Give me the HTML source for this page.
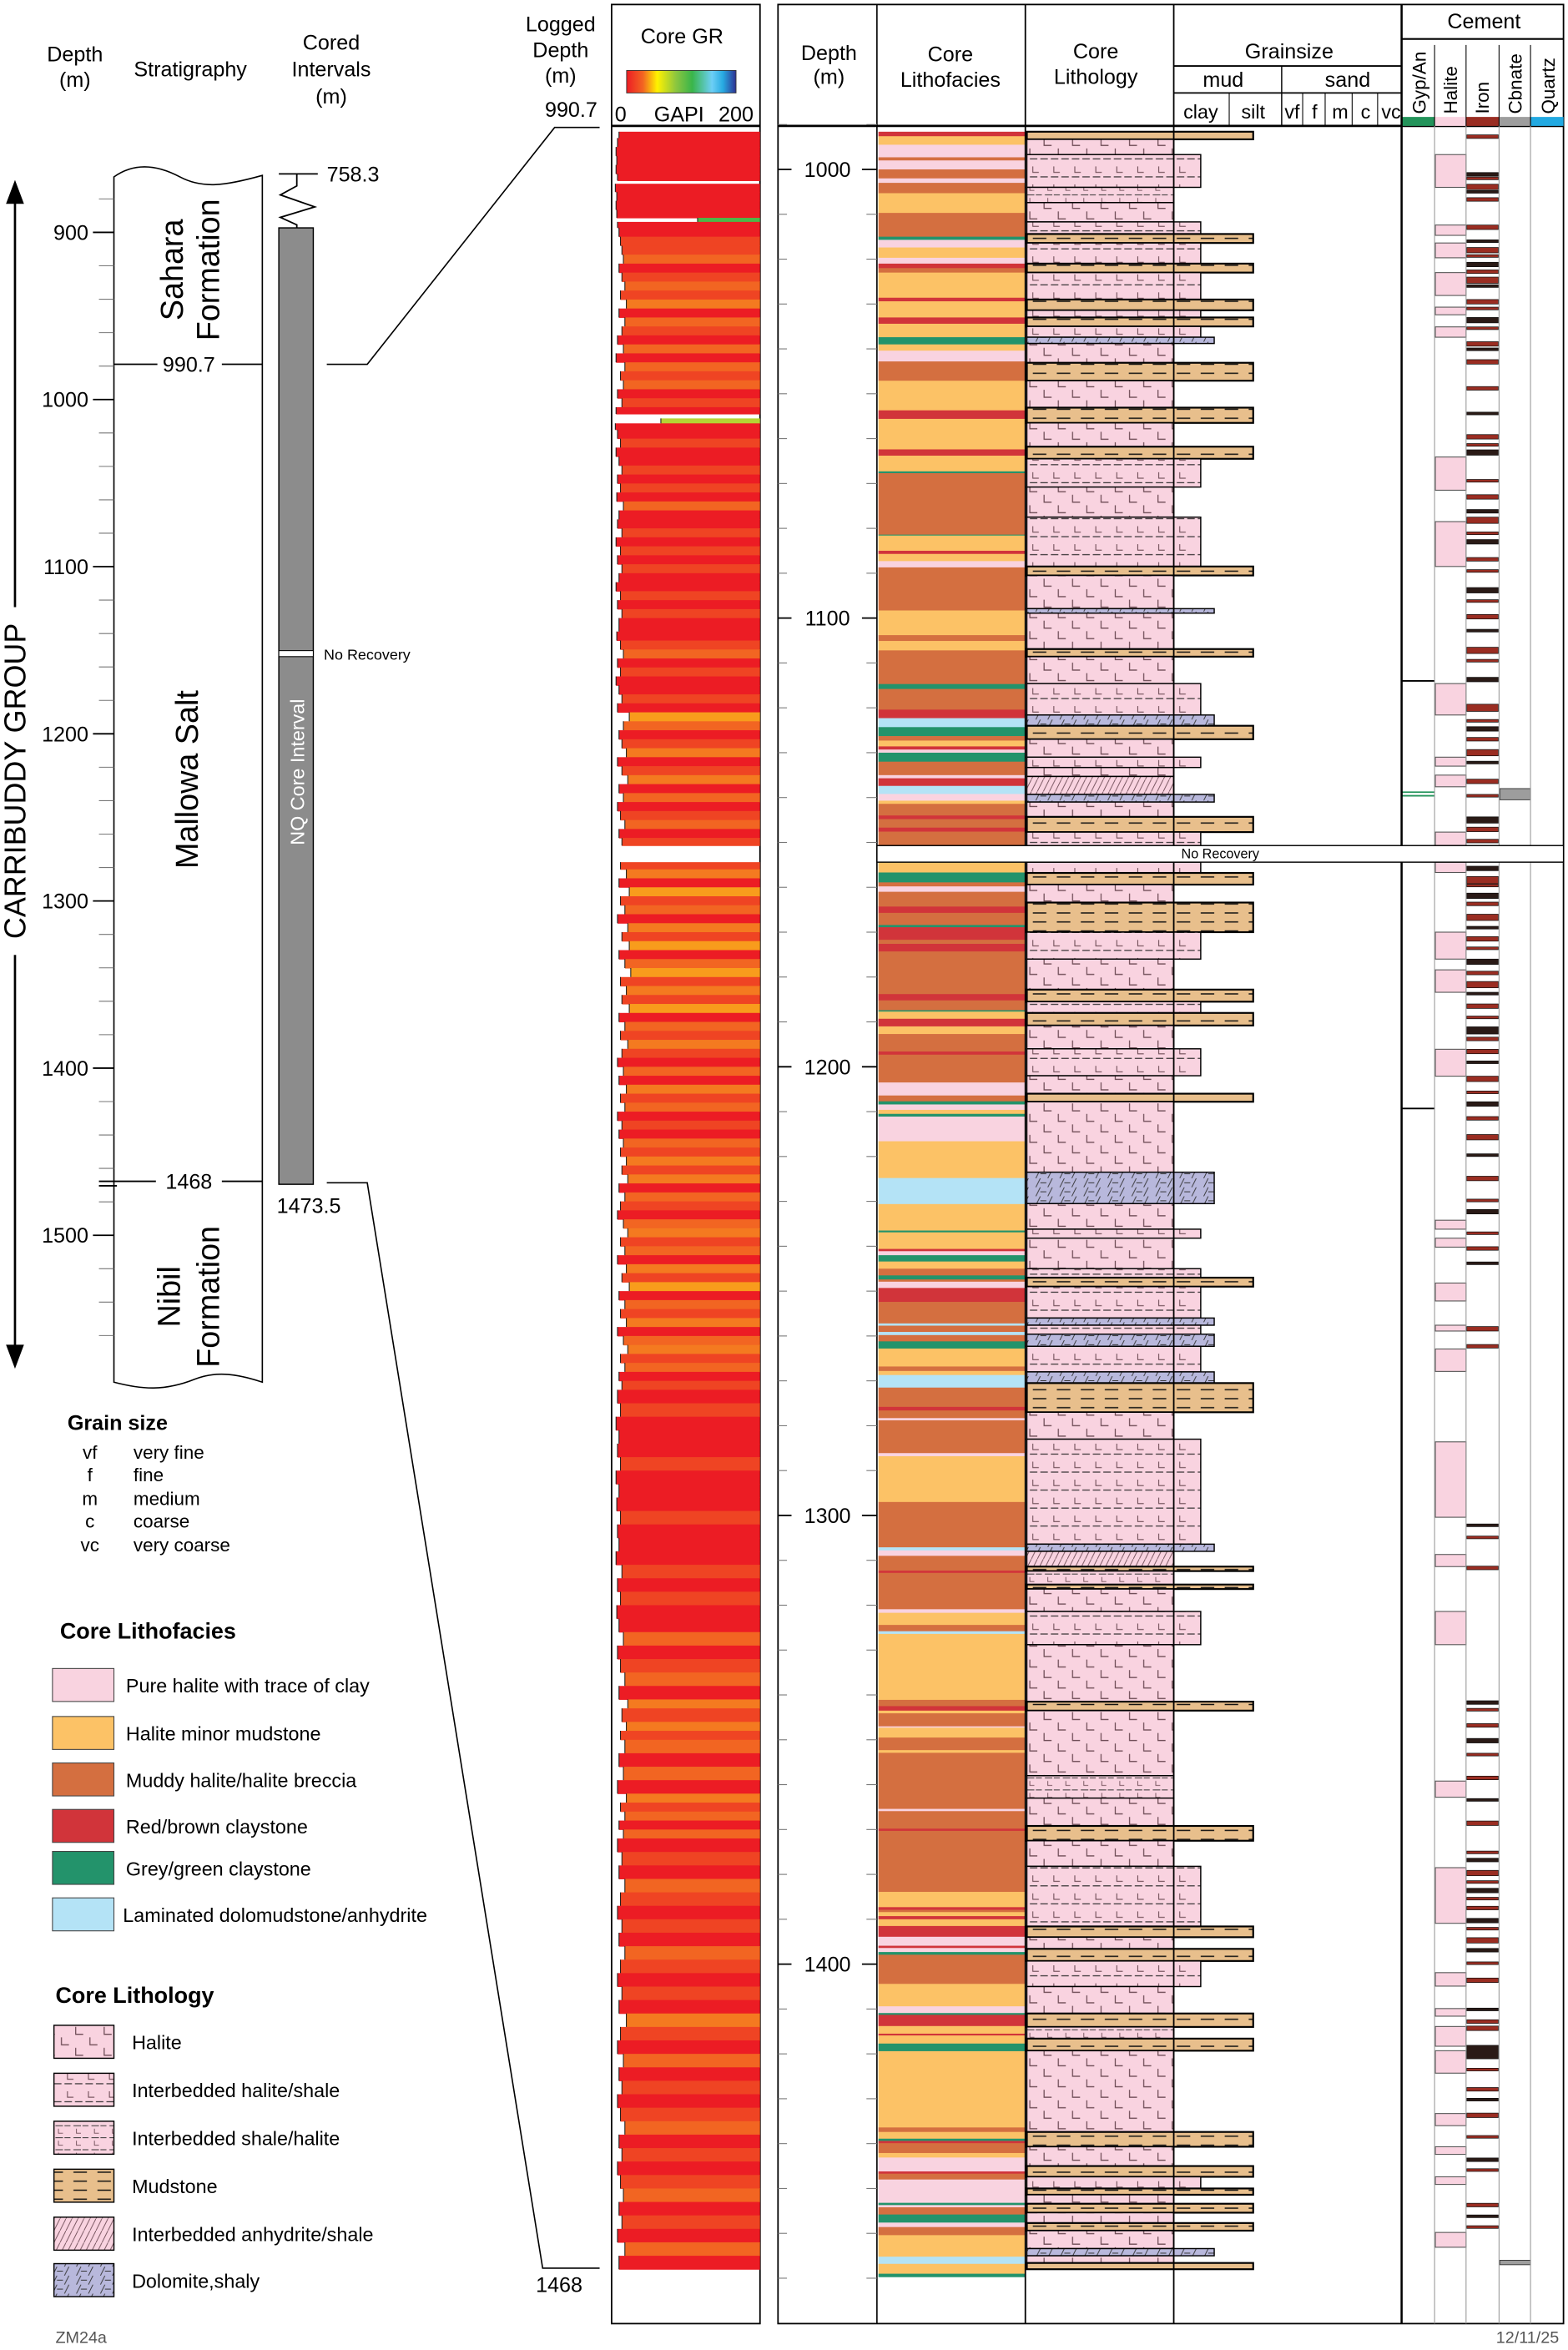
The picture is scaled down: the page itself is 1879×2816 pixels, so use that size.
<!DOCTYPE html>
<html><head><meta charset="utf-8">
<style>
html,body{margin:0;padding:0;background:#fff}
svg{display:block}
text{font-family:"Liberation Sans",Arial,sans-serif;fill:#000}
</style></head>
<body>
<svg id="chart" xmlns="http://www.w3.org/2000/svg" width="1879" height="2816" viewBox="0 0 1046 1567.6" preserveAspectRatio="none">
<defs>
<linearGradient id="grGrad" x1="0" x2="1" y1="0" y2="0">
<stop offset="0" stop-color="#ed1c24"/><stop offset="0.15" stop-color="#f26522"/><stop offset="0.28" stop-color="#fff200"/><stop offset="0.45" stop-color="#8dc63f"/><stop offset="0.6" stop-color="#39b54a"/><stop offset="0.78" stop-color="#6dcff6"/><stop offset="0.88" stop-color="#27aae1"/><stop offset="1" stop-color="#2e3192"/>
</linearGradient>
<pattern id="patH" width="19" height="14" patternUnits="userSpaceOnUse">
<rect width="19" height="14" fill="#f9d3e0"/>
<path d="M3 1v5h5M12.5 8v5h5" stroke="#6d4b55" stroke-width="0.7" fill="none"/>
</pattern>
<pattern id="patHS" width="14" height="12" patternUnits="userSpaceOnUse">
<rect width="14" height="12" fill="#f9d3e0"/>
<path d="M3 3v4h4" stroke="#6d4b55" stroke-width="0.6" fill="none"/>
<path d="M1 10h5M8 10h5" stroke="#222" stroke-width="0.6"/>
</pattern>
<pattern id="patSH" width="12" height="8" patternUnits="userSpaceOnUse">
<rect width="12" height="8" fill="#f9d3e0"/>
<path d="M1 2h5M7 2h4" stroke="#333" stroke-width="0.6"/>
<path d="M3 4v3h3" stroke="#6d4b55" stroke-width="0.5" fill="none"/>
</pattern>
<pattern id="patM" width="16" height="6" patternUnits="userSpaceOnUse">
<rect width="16" height="6" fill="#e8bf8c"/>
<path d="M1 3h9" stroke="#111" stroke-width="0.8"/>
</pattern>
<pattern id="patD" width="16" height="6" patternUnits="userSpaceOnUse">
<rect width="16" height="6" fill="#b8b8dc"/>
<path d="M3 6l3-6M11 6l3-6M6 3h4" stroke="#333" stroke-width="0.5"/>
</pattern>
<pattern id="patA" width="4" height="8" patternUnits="userSpaceOnUse">
<rect width="4" height="8" fill="#f9d3e0"/>
<path d="M0 8l4-8" stroke="#6d4b55" stroke-width="0.5"/>
</pattern>
</defs>
<g id="static">
<text x="50" y="41" font-size="14" text-anchor="middle">Depth</text>
<text x="50" y="58" font-size="14" text-anchor="middle">(m)</text>
<text x="127" y="51" font-size="14" text-anchor="middle">Stratigraphy</text>
<text x="221" y="33" font-size="14" text-anchor="middle">Cored</text>
<text x="221" y="51" font-size="14" text-anchor="middle">Intervals</text>
<text x="221" y="69" font-size="14" text-anchor="middle">(m)</text>
<text x="374" y="21" font-size="14" text-anchor="middle">Logged</text>
<text x="374" y="38" font-size="14" text-anchor="middle">Depth</text>
<text x="374" y="55" font-size="14" text-anchor="middle">(m)</text>
<text x="381" y="78" font-size="14" text-anchor="middle">990.7</text>
<text x="373" y="1529" font-size="14" text-anchor="middle">1468</text>
<path d="M76 118 C90 108,105 110,120 118 C135 126,150 124,175 117 L175 922 C160 917,145 914,130 920 C110 928,95 927,76 922 Z" fill="#fff" stroke="#000" stroke-width="0.9"/>
<text transform="translate(122,180) rotate(-90)" font-size="21" text-anchor="middle">Sahara</text>
<text transform="translate(146,180) rotate(-90)" font-size="21" text-anchor="middle">Formation</text>
<text transform="translate(132,520) rotate(-90)" font-size="21" text-anchor="middle">Mallowa Salt</text>
<text transform="translate(120,865) rotate(-90)" font-size="21" text-anchor="middle">Nibil</text>
<text transform="translate(146,865) rotate(-90)" font-size="21" text-anchor="middle">Formation</text>
<line x1="76" y1="243" x2="105" y2="243" stroke="#000" stroke-width="1"/>
<line x1="148" y1="243" x2="175" y2="243" stroke="#000" stroke-width="1"/>
<text x="126" y="248" font-size="14" text-anchor="middle">990.7</text>
<line x1="66" y1="788" x2="104" y2="788" stroke="#000" stroke-width="1"/>
<line x1="66" y1="791" x2="78" y2="791" stroke="#000" stroke-width="1"/>
<line x1="148" y1="788" x2="175" y2="788" stroke="#000" stroke-width="1"/>
<text x="126" y="793" font-size="14" text-anchor="middle">1468</text>
<line x1="186" y1="116" x2="212" y2="116" stroke="#000" stroke-width="1"/>
<path d="M198 116 V124 L187 130 L210 138 L187 145 L198 150 V152" fill="none" stroke="#000" stroke-width="1"/>
<text x="218" y="121" font-size="14">758.3</text>
<rect x="186" y="152" width="23" height="638" fill="#8c8c8c" stroke="#000" stroke-width="0.8"/>
<rect x="186" y="434" width="23" height="4" fill="#fff" stroke="#000" stroke-width="0.6"/>
<text x="216" y="440" font-size="10">No Recovery</text>
<text transform="translate(203,515) rotate(-90)" font-size="13" fill="#fff" style="fill:#fff" text-anchor="middle">NQ Core Interval</text>
<text x="206" y="809" font-size="14" text-anchor="middle">1473.5</text>
<polyline points="218,243 245,243 370,85 400,85" fill="none" stroke="#000" stroke-width="0.9"/>
<polyline points="218,789 245,789 362,1513 400,1513" fill="none" stroke="#000" stroke-width="0.9"/>
<line x1="10" y1="128" x2="10" y2="905" stroke="#000" stroke-width="1.5"/>
<path d="M10 120 L4 136 L16 136 Z M10 913 L4 897 L16 897 Z" fill="#000"/>
<rect x="0" y="405" width="20" height="232" fill="#fff"/>
<text transform="translate(17,521) rotate(-90)" font-size="20" text-anchor="middle">CARRIBUDDY GROUP</text>
<rect x="408" y="3" width="99" height="1547" fill="none" stroke="#000" stroke-width="1"/>
<line x1="408" y1="84" x2="507" y2="84" stroke="#000" stroke-width="1.5"/>
<text x="455" y="29" font-size="14" text-anchor="middle">Core GR</text>
<rect x="418" y="47" width="73" height="15" fill="url(#grGrad)" stroke="#333" stroke-width="0.5"/>
<text x="414" y="81" font-size="14" text-anchor="middle">0</text>
<text x="453" y="81" font-size="14" text-anchor="middle">GAPI</text>
<text x="491" y="81" font-size="14" text-anchor="middle">200</text>
<rect x="519" y="3" width="524" height="1547" fill="none" stroke="#000" stroke-width="1"/>
<line x1="519" y1="84" x2="1043" y2="84" stroke="#000" stroke-width="1.5"/>
<text x="553" y="40" font-size="14" text-anchor="middle">Depth</text>
<text x="553" y="56" font-size="14" text-anchor="middle">(m)</text>
<text x="634" y="41" font-size="14" text-anchor="middle">Core</text>
<text x="634" y="58" font-size="14" text-anchor="middle">Lithofacies</text>
<text x="731" y="39" font-size="14" text-anchor="middle">Core</text>
<text x="731" y="56" font-size="14" text-anchor="middle">Lithology</text>
<text x="860" y="39" font-size="14" text-anchor="middle">Grainsize</text>
<line x1="783" y1="44" x2="935" y2="44" stroke="#000" stroke-width="1"/>
<line x1="783" y1="62" x2="935" y2="62" stroke="#000" stroke-width="1"/>
<line x1="855" y1="44" x2="855" y2="84" stroke="#000" stroke-width="0.8"/>
<text x="816" y="58" font-size="14" text-anchor="middle">mud</text>
<text x="899" y="58" font-size="14" text-anchor="middle">sand</text>
<g stroke="#000" stroke-width="0.6"><line x1="820" y1="62" x2="820" y2="84"/><line x1="869" y1="62" x2="869" y2="84"/><line x1="884" y1="62" x2="884" y2="84"/><line x1="902" y1="62" x2="902" y2="84"/><line x1="919" y1="62" x2="919" y2="84"/></g>
<g font-size="13" text-anchor="middle">
<text x="801" y="79">clay</text>
<text x="836" y="79">silt</text>
<text x="862" y="79">vf</text>
<text x="877" y="79">f</text>
<text x="894" y="79">m</text>
<text x="911" y="79">c</text>
<text x="928" y="79">vc</text>
</g>
<text x="990" y="19" font-size="14" text-anchor="middle">Cement</text>
<line x1="935" y1="26" x2="1043" y2="26" stroke="#000" stroke-width="1.2"/>
<g font-size="12.5">
<text transform="translate(951,76) rotate(-90)">Gyp/An</text>
<text transform="translate(972,76) rotate(-90)">Halite</text>
<text transform="translate(993,76) rotate(-90)">Iron</text>
<text transform="translate(1015,76) rotate(-90)">Cbnate</text>
<text transform="translate(1037,76) rotate(-90)">Quartz</text>
</g>
<rect x="935" y="78" width="22" height="6" fill="#23935a"/>
<rect x="957" y="78" width="21" height="6" fill="#f9d3e0"/>
<rect x="978" y="78" width="22" height="6" fill="#992d22"/>
<rect x="1000" y="78" width="21" height="6" fill="#9d9d9d"/>
<rect x="1021" y="78" width="22" height="6" fill="#22a9e1"/>
<text x="45" y="954" font-size="14" font-weight="bold">Grain size</text>
<g font-size="12.5">
<text x="60" y="973" text-anchor="middle">vf</text><text x="89" y="973">very fine</text>
<text x="60" y="988" text-anchor="middle">f</text><text x="89" y="988">fine</text>
<text x="60" y="1004" text-anchor="middle">m</text><text x="89" y="1004">medium</text>
<text x="60" y="1019" text-anchor="middle">c</text><text x="89" y="1019">coarse</text>
<text x="60" y="1035" text-anchor="middle">vc</text><text x="89" y="1035">very coarse</text>
</g>
<text x="40" y="1093" font-size="15" font-weight="bold">Core Lithofacies</text>
<text x="37" y="1336" font-size="15" font-weight="bold">Core Lithology</text>
<text x="37" y="1563" font-size="11" fill="#555" style="fill:#555">ZM24a</text>
<text x="1040" y="1563" font-size="11" text-anchor="end" fill="#555" style="fill:#555">12/11/25</text>
</g>
<g id="dyn"></g>
</svg>
<script>
// ---------- data ----------
const grTop = [991.6,993,995,997,999,1001,1002.5,1003.2,1005,1007,1009,1010.8,1011.7,1013,1015,1017,1019,1021,1023,1025,1027,1029,1031,1033,1035,1037,1039,1041,1043,1045,1047,1049,1051,1053,1054.5,1055.5,1056.6,1058,1060,1062,1064,1066,1068,1070,1072,1074,1076,1078,1080,1082,1084,1086,1088,1090,1092,1094,1096,1098,1100,1103,1105,1107,1109,1111,1113,1115,1117,1119,1121,1123,1125,1127,1129,1131,1133,1135,1137,1139,1141,1143,1145,1147,1149,1150.7,1154.4,1156,1158,1160,1162,1164,1166,1168,1170,1172,1174,1176,1178,1180,1182,1184,1186,1188,1190,1192,1194,1196,1198,1200,1202,1204,1206,1208,1210,1212,1214,1216,1218,1220,1222,1224,1226,1228,1230,1232,1234,1236,1238,1240,1242,1244,1246,1248,1250,1252,1254,1256,1258,1260,1262,1264,1266,1268,1270,1272,1275,1278,1281,1284,1287,1290,1293,1296,1299,1302,1305,1308,1311,1314,1317,1320,1323,1326,1329,1332,1335,1338,1341,1343,1346,1348,1350,1353,1356,1359,1362,1364,1366,1368,1370,1372,1375,1378,1381,1384,1387,1390,1393,1396,1399,1402,1405,1408,1411,1414,1417,1420,1423,1426,1429,1432,1435,1438,1441,1444,1447,1450,1453,1456,1459,1462,1465];
const grValue = [8,6,4,5,4,6,null,3,5,4,5,115,6,8,10,12,14,8,12,16,10,18,8,16,12,6,14,4,16,10,14,6,12,4,null,65,3,6,10,4,8,12,6,10,5,14,8,6,12,4,10,6,12,8,4,10,6,12,8,5,10,14,6,10,4,8,12,6,22,14,8,12,18,6,12,20,8,14,6,10,16,8,12,null,10,18,8,22,10,16,6,20,12,22,8,16,24,10,18,12,22,8,16,10,20,12,6,14,8,18,10,16,6,12,8,14,10,18,12,20,8,16,10,6,14,20,10,16,6,18,12,22,8,16,10,18,6,14,20,10,16,8,12,6,10,4,8,6,10,4,8,5,10,6,8,4,12,6,10,5,8,14,6,10,16,8,20,12,18,10,16,8,14,6,18,10,16,8,14,6,12,8,16,10,6,12,8,16,10,6,12,8,18,10,6,14,8,12,6,10,16,8,12,6,10,14,8,12,6,16,8];
const GR_BOTTOM = 1468;

const faciesTop = [991.6,992.6,994.5,997.3,998,1000,1002,1003,1005.3,1009.7,
1015,1015.7,1017.4,1019.7,1021,1022,1023,1028.6,1029.4,1033,
1034.4,1037.4,1039,1040.4,1042.8,1047.1,1053.7,1055.6,1062.4,1063.8,
1067.3,1067.7,1081.4,1081.6,1085,1085.7,1087.3,1088.7,1098.3,1103.8,
1105.1,1107.2,1114.7,1115.8,1120.4,1122.3,1124.3,1126.3,1127.3,1128.6,
1129.3,1130,1132,1135,1135.7,1137.4,1139.2,1140.7,1141.4,1144,
1144.8,1146.7,1147.6,1150.7,1154.4,1156.7,1158.9,1159.8,1161,1164.3,
1165.7,1168.4,1168.9,1171.7,1172.6,1174.3,1183.8,1185.2,1187.4,1187.7,
1189.3,1191,1192.7,1196.6,1197.3,1203.5,1206.4,1207.7,1208.4,1209.6,
1210.5,1211.1,1216.6,1224.8,1230.6,1236.5,1236.9,1238.3,1240.6,1241.1,
1242,1243.4,1245,1246.5,1247.4,1247.9,1249.3,1252.4,1257.2,1257.7,
1259.1,1259.8,1261.2,1262.8,1266.8,1267.8,1268.7,1271.5,1275.8,1276.6,
1278.3,1278.8,1286.1,1286.8,1297,1307.1,1307.8,1309,1312.3,1312.8,
1320.9,1321.7,1324.4,1325.8,1326.4,1341.1,1342.5,1343.5,1344.1,1347,
1347.3,1349.5,1352.3,1352.9,1365.4,1365.9,1369.8,1370.3,1383.9,1387.3,
1387.9,1388.4,1389.3,1390,1391.5,1393.9,1395.9,1396.4,1397.3,1397.9,
1404.4,1409.4,1410.9,1411.3,1413.8,1415.5,1415.9,1417.7,1419.4,1436.4,
1437.4,1438.9,1439.4,1439.9,1442.1,1443.1,1446.2,1446.7,1448,1448.7,
1453.2,1453.7,1454.2,1455.8,1457.6,1458.6,1460.4,1465.2,1466.8,1469];
const faciesCode = ["R","H","P","M","P","M","P","M","H","M",
"G","P","H","P","R","M","H","R","H","R",
"H","G","H","P","M","H","R","H","R","H",
"G","M","G","H","R","H","P","M","H","M",
"H","M","G","M","R","L","G","M","H","R",
"P","G","M","P","R","L","P","H","M","R",
"M","R","M","X","H","G","M","P","M","R",
"M","G","R","M","R","M","R","M","G","H",
"R","H","M","R","M","P","M","G","P","H",
"G","P","H","L","H","G","H","H","R","P",
"G","H","M","G","M","P","R","M","L","M",
"L","M","G","H","M","H","L","M","R","M",
"P","M","P","H","M","L","P","M","R","M",
"P","H","M","L","H","M","R","H","M","P",
"H","M","H","M","P","M","R","M","H","R",
"M","H","R","H","R","P","R","P","G","M",
"H","P","G","R","H","R","H","G","H","M",
"H","G","R","M","H","P","R","M","P","P",
"G","P","M","G","P","M","H","L","H","G"];
const FACIES_BOTTOM = 1469.7;

const lithTop = [991.6,993.3,996.7,1004,1007.4,1011.7,1014.4,1016.4,1021,1023,1029,1031.4,1033,1035,1037.4,1038.8,1043.1,1047.1,1053.1,1056.5,1061.8,1064.5,1070.8,1077.5,1088.5,1090.5,1097.9,1098.9,1106.9,1108.6,1114.6,1121.6,1124,1127,1131,1133.3,1135.3,1139.3,1141,1144.3,1147.7,1150.7,1154.4,1156.8,1159.4,1163.4,1170,1176,1182.8,1185.5,1188,1190.8,1196,1202,1206,1207.8,1223.5,1230.5,1236.2,1238.2,1245,1247,1249,1256,1257.6,1259.6,1262.3,1268,1270.5,1277,1283,1306.4,1308,1311.4,1312.4,1315.4,1316.4,1321.4,1328.8,1341.5,1343.5,1358,1363,1369.2,1372.5,1378.2,1391.6,1394,1396.6,1399.3,1405,1411,1414,1416.6,1419.3,1437.4,1440.7,1445,1447.4,1450,1451.4,1453.4,1455.4,1457.7,1459.4,1463.4,1465,1466.6];
const lithType = ["m","h","hs","sh","h","hs","m","hs","m","hs","m","hs","m","hs","d","h","m","h","m","h","m","hs","h","hs","m","h","d","h","m","h","hs","d","m","h","hs","h","a","d","h","m","hs","x","hs","m","h","m","hs","h","m","hs","m","h","hs","h","m","h","d","h","hs","h","hs","m","hs","d","hs","d","hs","d","m","h","hs","d","a","m","sh","m","h","hs","h","m","h","sh","h","m","h","hs","m","h","m","hs","h","m","sh","m","h","m","h","m","hs","m","h","m","h","m","h","d","h","m"];
const LITH_BOTTOM = 1468;

const haliteCementTop = [996.7,1012.4,1016.4,1023,1030.7,1035.1,1064.1,1078.5,1114.6,1131,1135,1147.7,1154.4,1170,1178.4,1196.1,1234.2,1238.2,1248.2,1257.6,1262.9,1283.6,1308.7,1321.4,1359.2,1378.5,1401.9,1409.9,1413.9,1419.3,1433.3,1440.7,1447.4,1459.8];
const haliteCementBase = [1004,1014.7,1019.7,1028.1,1032.4,1037.4,1071.5,1088.5,1121.6,1133,1137.6,1150.7,1156.7,1176,1183.4,1202.1,1236.2,1240.2,1252.2,1258.9,1267.9,1300.4,1311.4,1328.8,1362.8,1390.9,1404.9,1411.6,1418.3,1424.3,1436,1442.4,1449.1,1463.1];
const ironCementDepth = [992.3,1000.7,1001.7,1003.3,1004.7,1006.3,1012.4,1015.7,1017.4,1019,1020.7,1022.4,1024,1025.7,1029,1030.7,1033,1035.1,1038.4,1039.8,1042.4,1048.4,1054.1,1059.1,1061.1,1062.5,1069.1,1072.5,1075.8,1077.5,1080.8,1082.5,1086.5,1089.2,1093.2,1095.9,1099.2,1102.5,1106.5,1109.2,1113.2,1119.2,1122.6,1124.2,1126.6,1129.3,1131.9,1135.9,1139.3,1144.3,1146.6,1149.3,1155.3,1157.6,1159.3,1161.3,1163.3,1166,1168.7,1171,1173.3,1176,1178.7,1181,1183.4,1186,1188.7,1191.1,1193.4,1196.1,1198.7,1202.1,1205.4,1207.8,1211.1,1215.1,1219.4,1224.4,1229.5,1231.8,1236.8,1240.1,1243.5,1257.9,1261.9,1301.9,1304.6,1311.3,1341.3,1343,1346.4,1349.7,1353,1358.1,1363.1,1368.1,1374.8,1376.4,1379.1,1381.4,1383.1,1385.1,1387.1,1389.8,1391.8,1394.1,1396.5,1399.5,1403.1,1409.8,1412.4,1413.8,1418.1,1423.2,1427.5,1429.9,1433.2,1438.2,1443.2,1445.6,1453.3,1455.9,1458.3];
const ironCementThick = [0.8,0.8,0.6,1.2,0.6,0.8,1,0.6,1.2,0.6,1,0.8,1.4,0.6,1,0.6,1.2,0.6,1,0.6,1,0.8,0.6,1,0.6,1.2,0.6,1,0.8,1.4,0.6,1,0.8,0.6,1.2,0.6,1,0.6,1.4,0.6,1,1.6,0.6,1,0.8,1.4,0.6,1,0.6,1.4,1,0.8,1,1.6,0.6,1.2,0.8,1.4,0.6,1,0.6,1.2,0.8,1.4,0.6,1,0.6,1.6,0.8,1,0.6,1.2,0.6,1,0.8,1.2,0.6,1,0.6,1,0.6,0.8,0.6,1,0.8,0.6,0.6,0.8,0.8,0.6,0.8,1,0.6,0.8,0.6,1,0.6,0.8,1.2,0.6,1,0.6,0.8,1,0.6,1.2,0.8,0.6,1,0.6,0.8,1,3,0.6,0.8,0.6,1,0.6,0.8,0.6,0.8,0.6,0.6];
const gypLineDepth = [1114,1138.8,1139.6,1209.3];
const carbonateBandTop = [1138, 1466];
const carbonateBandBase = [1140.5, 1467];
const rightTicks = [1000,1100,1200,1300,1400];
const leftTicks = [900,1000,1100,1200,1300,1400,1500];
const lithofaciesLegend = ["Pure halite with trace of clay","Halite minor mudstone","Muddy halite/halite breccia","Red/brown claystone","Grey/green claystone","Laminated dolomudstone/anhydrite"];
const lithofaciesLegendCode = ["P","H","M","R","G","L"];
const lithologyLegend = ["Halite","Interbedded halite/shale","Interbedded shale/halite","Mudstone","Interbedded anhydrite/shale","Dolomite,shaly"];
const lithologyLegendCode = ["h","hs","sh","m","a","d"];

// ---------- scales ----------
const yR = d => 113 + (d - 1000) * 2.993;
const yL = d => 155 + (d - 900) * 1.115;
const xGR = v => 409 + v * 0.49;
const faciesColor = {P:"#f9d3e0",H:"#fcc266",M:"#d46f40",R:"#d1343a",G:"#23936b",L:"#b4e3f6"};
const lithFill = {h:"url(#patH)",hs:"url(#patHS)",sh:"url(#patSH)",m:"url(#patM)",d:"url(#patD)",a:"url(#patA)"};
const lithRight = {h:783,hs:801,sh:783,m:836,d:810,a:783};
function grColor(v){
  if(v>=100) return "#4db848";
  if(v>=50) return "#b5d334";
  if(v>=21) return "#f89c1c";
  if(v>=17) return "#f47a20";
  if(v>=13) return "#f26522";
  if(v>=9) return "#ef4423";
  return "#ec1c24";
}
const NS = "http://www.w3.org/2000/svg";
const dyn = document.getElementById("dyn");
function mk(tag, attrs){
  const e = document.createElementNS(NS, tag);
  for (const k in attrs) e.setAttribute(k, attrs[k]);
  dyn.appendChild(e);
  return e;
}

for (let i = 0; i < grTop.length; i++) {
  const v = grValue[i];
  if (v === null) continue;
  const t = grTop[i], b = (i + 1 < grTop.length) ? grTop[i + 1] : GR_BOTTOM;
  const x0 = xGR(v);
  const r = mk("rect", {x: x0, y: yR(t), width: 507 - x0, height: yR(b) - yR(t) + 0.3, fill: grColor(v)});
  
  
}
{
  let d = "";
  for (let i = 0; i < grTop.length; i++) {
    const v = grValue[i];
    if (v === null) continue;
    const t = grTop[i], b = (i + 1 < grTop.length) ? grTop[i + 1] : GR_BOTTOM;
    d += "M" + xGR(v) + " " + yR(t) + "V" + yR(b);
  }
  const p = mk("path", {d: d, stroke: "#222", "stroke-width": 0.6, fill: "none"});
  
  
}

for (let i = 0; i < faciesTop.length; i++) {
  const c = faciesCode[i];
  if (c === "X" || c === undefined) continue;
  const t = faciesTop[i], b = (i + 1 < faciesTop.length) ? faciesTop[i + 1] : FACIES_BOTTOM;
  const r = mk("rect", {x: 586, y: yR(t), width: 98, height: yR(b) - yR(t) + 0.2, fill: faciesColor[c]});
  
  
}

for (let i = 0; i < lithTop.length; i++) {
  const c = lithType[i];
  if (c === "x") continue;
  const t = lithTop[i], b = (i + 1 < lithTop.length) ? lithTop[i + 1] : LITH_BOTTOM;
  const r = mk("rect", {x: 685, y: yR(t), width: lithRight[c] - 685, height: yR(b) - yR(t), fill: lithFill[c], stroke: "#000", "stroke-width": (c === "m" ? 1.2 : 0.8)});
  
  
}

for (let i = 0; i < haliteCementTop.length; i++) {
  const r = mk("rect", {x: 957.5, y: yR(haliteCementTop[i]), width: 20.5, height: yR(haliteCementBase[i]) - yR(haliteCementTop[i]), fill: "#f9d3e0", stroke: "#555", "stroke-width": 0.6});
  
  
}
for (let i = 0; i < ironCementDepth.length; i++) {
  const h = Math.max(ironCementThick[i] * 2.993, 1.2);
  const r = mk("rect", {x: 978.5, y: yR(ironCementDepth[i]), width: 21, height: h, fill: (i % 3 === 1 ? "#2a1a16" : "#9a2d22"), stroke: "#111", "stroke-width": 0.4});
  
  
}
for (let i = 0; i < gypLineDepth.length; i++) {
  const l = mk("line", {x1: 935, x2: 957, y1: yR(gypLineDepth[i]), y2: yR(gypLineDepth[i]), stroke: (i === 1 || i === 2) ? "#23935a" : "#000", "stroke-width": 1});
  
  
}
for (let i = 0; i < carbonateBandTop.length; i++) {
  const r = mk("rect", {x: 1000.5, y: yR(carbonateBandTop[i]), width: 20.5, height: yR(carbonateBandBase[i]) - yR(carbonateBandTop[i]), fill: "#9d9d9d", stroke: "#333", "stroke-width": 0.5});
  
  
}

[[585,0.9,"#000"],[684,1,"#000"],[783,1,"#000"],[935,1.4,"#000"],[957,0.6,"#999"],[978,0.6,"#999"],[1000,0.6,"#999"],[1021,0.6,"#999"]].forEach(function(c){
  const l = mk("line", {x1: c[0], x2: c[0], y1: (c[0] > 935 ? 84 : 3), y2: 1550, stroke: c[2], "stroke-width": c[1]});
  
  
});
[957,978,1000,1021].forEach(function(x){
  const l = mk("line", {x1: x, x2: x, y1: 30, y2: 84, stroke: "#000", "stroke-width": 0.6});
  
  
});
{
  const nr = mk("rect", {x: 585, y: yR(1150.7), width: 458, height: yR(1154.4) - yR(1150.7), fill: "#fff", stroke: "#000", "stroke-width": 0.8});
  
  
  const tx = mk("text", {x: 814, y: yR(1152.55) + 3, "font-size": 9, "text-anchor": "middle"});
  tx.textContent = "No Recovery";
  
  
}

for (let d = 990; d <= 1470; d += 10) {
  const y = yR(d);
  if (rightTicks.indexOf(d) >= 0) continue;
  const a = mk("line", {x1: 519, x2: 525, y1: y, y2: y, stroke: "#777", "stroke-width": 0.6});
  
  
  const b = mk("line", {x1: 578, x2: 585, y1: y, y2: y, stroke: "#777", "stroke-width": 0.6});
  
  
}
for (let i = 0; i < rightTicks.length; i++) {
  const y = yR(rightTicks[i]);
  const a = mk("line", {x1: 519, x2: 528, y1: y, y2: y, stroke: "#000", "stroke-width": 1});
  
  
  const b = mk("line", {x1: 575, x2: 585, y1: y, y2: y, stroke: "#000", "stroke-width": 1});
  
  
  const t = mk("text", {x: 552, y: y + 5, "font-size": 14, "text-anchor": "middle"});
  t.textContent = rightTicks[i];
  
  
}

for (let d = 820; d <= 1560; d += 20) {
  const y = yL(d);
  if (y < 118 || y > 918) continue;
  const a = mk("line", {x1: 66, x2: 76, y1: y, y2: y, stroke: "#777", "stroke-width": 0.6});
  
  
}
for (let i = 0; i < leftTicks.length; i++) {
  const y = yL(leftTicks[i]);
  const a = mk("line", {x1: 62, x2: 76, y1: y, y2: y, stroke: "#000", "stroke-width": 1});
  
  
  const t = mk("text", {x: 59, y: y + 5, "font-size": 14, "text-anchor": "end"});
  t.textContent = leftTicks[i];
  
  
}

const facLegY = [1113,1145,1176,1207,1235,1266];
for (let i = 0; i < lithofaciesLegend.length; i++) {
  const r = mk("rect", {x: 35, y: facLegY[i], width: 41, height: 22, fill: faciesColor[lithofaciesLegendCode[i]], stroke: "#444", "stroke-width": 0.6});
  
  
  const t = mk("text", {x: (i === 5 ? 82 : 84), y: facLegY[i] + 16, "font-size": 13});
  t.textContent = lithofaciesLegend[i];
  
  
}
const litLegY = [1351,1383,1415,1447,1479,1510];
for (let i = 0; i < lithologyLegend.length; i++) {
  const r = mk("rect", {x: 36, y: litLegY[i], width: 40, height: 22, fill: lithFill[lithologyLegendCode[i]], stroke: "#000", "stroke-width": 0.8});
  
  
  const t = mk("text", {x: 88, y: litLegY[i] + 16, "font-size": 13});
  t.textContent = lithologyLegend[i];
  
  
}
</script>
</body></html>
